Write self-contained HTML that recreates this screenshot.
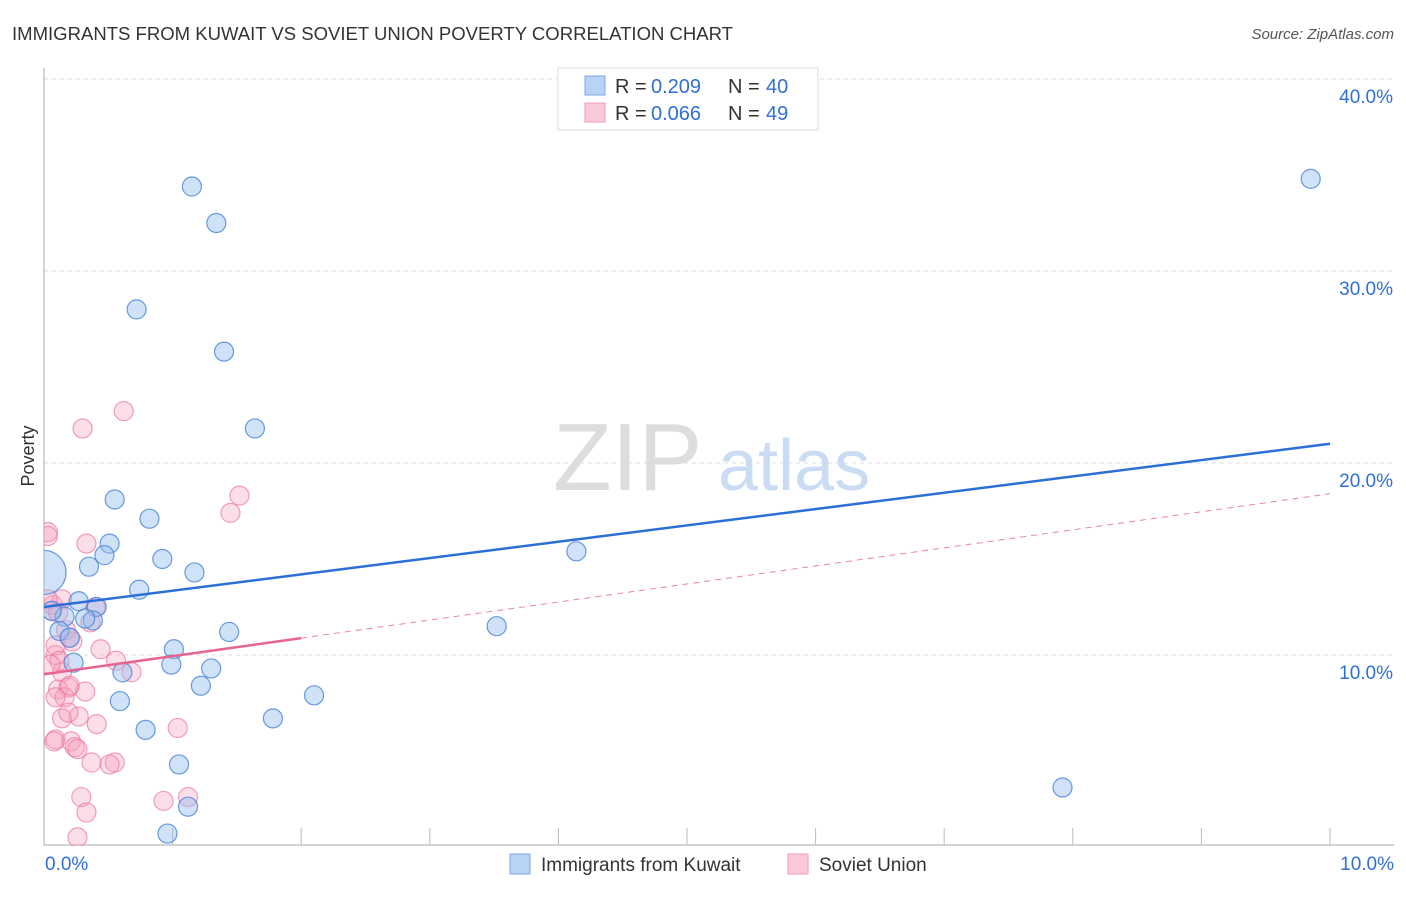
<!DOCTYPE html>
<html><head><meta charset="utf-8"><style>
body{margin:0;background:#fff;font-family:"Liberation Sans",sans-serif;}
svg text{font-family:"Liberation Sans",sans-serif;}
</style></head><body>
<svg width="1406" height="892" xmlns="http://www.w3.org/2000/svg">
<defs><clipPath id="plotclip"><rect x="44" y="60" width="1360" height="786"/></clipPath></defs>
<text x="12" y="40" font-size="18" fill="#333" textLength="721" lengthAdjust="spacingAndGlyphs">IMMIGRANTS FROM KUWAIT VS SOVIET UNION POVERTY CORRELATION CHART</text>
<text x="1394" y="39" font-size="15" fill="#555" font-style="italic" text-anchor="end">Source: ZipAtlas.com</text>
<g><text x="553" y="490" font-size="96" fill="#ddd" font-family="Liberation Serif,serif">ZIP</text><text x="718" y="490" font-size="72" fill="#c9dcf3">atlas</text></g>
<g id="grid"></g><g id="axes"></g><g id="pts" clip-path="url(#plotclip)"></g><g id="lines"></g>
<text x="34" y="456" font-size="18" fill="#333" transform="rotate(-90 34 456)" text-anchor="middle">Poverty</text>
<g>
<rect x="558" y="68" width="260" height="62" fill="#fff" stroke="#ddd"/>
<rect x="585" y="76" width="20" height="19" fill="#b8d3f5" stroke="#7aa8e6"/>
<rect x="585" y="103" width="20" height="19" fill="#fcc9d8" stroke="#f19ab6"/>
<text y="93" font-size="20" fill="#333"><tspan x="615">R =</tspan><tspan x="651" fill="#2f6fd6">0.209</tspan><tspan x="728">N =</tspan><tspan x="766" fill="#2f6fd6">40</tspan></text>
<text y="120" font-size="20" fill="#333"><tspan x="615">R =</tspan><tspan x="651" fill="#2f6fd6">0.066</tspan><tspan x="728">N =</tspan><tspan x="766" fill="#2f6fd6">49</tspan></text>
</g>
<g>
<rect x="510" y="854" width="20" height="20" fill="#b8d3f5" stroke="#7aa8e6"/><text x="541" y="871" font-size="19" fill="#333">Immigrants from Kuwait</text>
<rect x="788" y="854" width="20" height="20" fill="#fcc9d8" stroke="#f19ab6"/><text x="819" y="871" font-size="19" fill="#333">Soviet Union</text>
</g>
</svg>
<script>
const blueX=[1.15,1.34,0.72,1.40,1.64,0.55,0.82,0.51,0.47,0.92,0.35,1.17,0.74,0.27,0.41,0.16,0.38,0.32,0.12,0.20,0.06,1.01,1.44,1.30,0.99,0.61,1.22,0.59,0.79,1.78,2.10,1.05,1.12,0.96,4.14,3.52,9.85,7.92,0.0,0.23];
const blueY=[34.4,32.5,28.0,25.8,21.8,18.1,17.1,15.8,15.2,15.0,14.6,14.3,13.4,12.8,12.5,12.0,11.8,11.9,11.25,10.9,12.3,10.3,11.2,9.3,9.5,9.1,8.4,7.6,6.1,6.7,7.9,4.3,2.1,0.7,15.4,11.5,34.8,3.1,14.3,9.6];
const pinkX=[0.03,0.03,0.62,0.30,1.52,1.45,0.33,0.07,0.14,0.36,0.40,0.20,0.09,0.09,0.14,0.56,0.68,0.11,0.19,0.16,0.09,0.32,0.20,0.14,0.27,0.41,0.19,1.04,0.09,0.21,0.24,0.26,0.37,0.55,0.51,0.93,1.12,0.29,0.33,0.26,0.06,0.03,0.11,0.17,0.22,0.12,0.05,0.08,0.44];
const pinkY=[16.4,16.2,22.7,21.8,18.3,17.4,15.8,12.6,12.9,11.7,12.5,10.9,10.0,10.5,9.1,9.7,9.1,8.2,8.3,7.8,7.8,8.1,8.4,6.7,6.8,6.4,7.0,6.2,5.6,5.5,5.2,5.1,4.4,4.4,4.3,2.4,2.6,2.6,1.8,0.5,12.3,12.9,12.2,11.3,10.7,9.7,9.5,5.5,10.3];
const yTicks=[10,20,30,40];
const xTickLabels=["0.0%","10.0%"];
const blueTrend=[12.5,21.0];
const pinkTrend=[9.0,18.4];
const pinkSolidEnd=2.0;
const NS="http://www.w3.org/2000/svg";
const X=v=>44+v*128.6, Y=v=>847-v*19.2;
function mk(p,t,a){const e=document.createElementNS(NS,t);for(const k in a)e.setAttribute(k,a[k]);p.appendChild(e);return e;}
const grid=document.getElementById('grid'),axes=document.getElementById('axes'),pts=document.getElementById('pts'),lines=document.getElementById('lines');
yTicks.forEach(t=>{const l=mk(grid,'line',{x1:44,x2:1394,y1:Y(t),y2:Y(t),stroke:'#ddd','stroke-dasharray':'4,4'});


const tx=mk(grid,'text',{x:1393,y:Y(t)+24,'font-size':19,fill:'#2f6fd6','text-anchor':'end'});tx.textContent=t.toFixed(1)+'%';

});
mk(axes,'line',{x1:44,x2:44,y1:68,y2:845,stroke:'#aaa'});
mk(axes,'line',{x1:44,x2:1394,y1:845,y2:845,stroke:'#aaa'});
for(let k=1;k<=10;k++){const l=mk(axes,'line',{x1:X(k),x2:X(k),y1:828,y2:845,stroke:'#bbb'});

}
[[0,'start',45],[10,'end',1394]].forEach((d,i)=>{const t=mk(axes,'text',{x:d[2],y:870,'font-size':19,fill:'#2f6fd6','text-anchor':d[1]});t.textContent=xTickLabels[i];

});
function dots(xs,ys,fill,stroke,name){xs.forEach((x,i)=>{const big=(x===0&&name==='blue-point');const c=mk(pts,'circle',{cx:X(x),cy:Y(ys[i]),r:big?22:9.5,fill:fill,stroke:stroke,'stroke-width':1.2});

});}
dots(pinkX,pinkY,'rgba(246,160,190,0.35)','rgba(236,120,160,0.7)','pink-point');
dots(blueX,blueY,'rgba(150,190,240,0.45)','rgba(70,130,215,0.8)','blue-point');
const bl=mk(lines,'line',{x1:X(0),y1:Y(blueTrend[0]),x2:X(10),y2:Y(blueTrend[1]),stroke:'#2a6fd8','stroke-width':2.5});


const py=x=>pinkTrend[0]+(pinkTrend[1]-pinkTrend[0])*x/10;
const ps=mk(lines,'line',{x1:X(0),y1:Y(py(0)),x2:X(pinkSolidEnd),y2:Y(py(pinkSolidEnd)),stroke:'#e8648f','stroke-width':2.5});


const pd=mk(lines,'line',{x1:X(pinkSolidEnd),y1:Y(py(pinkSolidEnd)),x2:X(10),y2:Y(py(10)),stroke:'#e8869f','stroke-width':1,'stroke-dasharray':'6,5'});


</script>
</body></html>
